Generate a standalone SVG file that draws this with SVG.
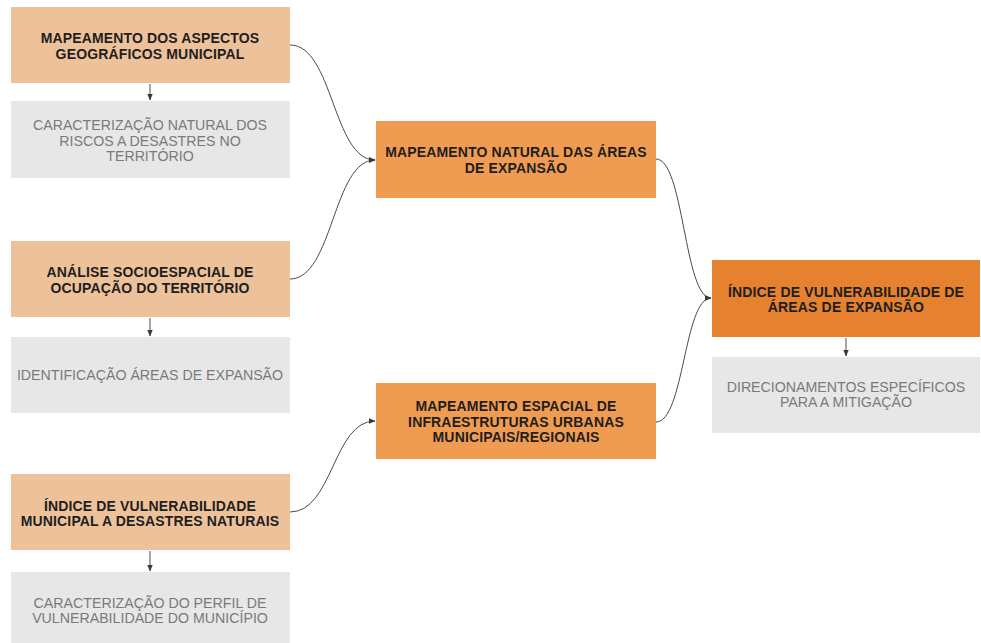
<svg xmlns="http://www.w3.org/2000/svg" width="981" height="643" viewBox="0 0 981 643">
<style>
.lo{fill:#EDC29A}
.mo{fill:#EF9C52}
.do{fill:#E5812F}
.gr{fill:#E7E7E7}
.bt{font-family:"Liberation Sans",Arial,sans-serif;font-weight:bold;font-size:14px;letter-spacing:0.15px;fill:#1E1E1E;text-anchor:middle}
.gt{font-family:"Liberation Sans",Arial,sans-serif;font-size:14.2px;fill:#7A7A7A;text-anchor:middle}
.c{fill:none;stroke:#4A4A4A;stroke-width:1}
</style>
<defs>
<marker id="ah" markerWidth="7" markerHeight="7" refX="6" refY="3.5" orient="auto" markerUnits="userSpaceOnUse">
<path d="M0,0.8 L6.5,3.5 L0,6.2 Z" fill="#3A3A3A"/>
</marker>
</defs>
<rect width="981" height="643" fill="#FFFFFF"/>
<g id="n1"><rect class="lo" x="11" y="7" width="279" height="76"/><text class="bt" x="150" y="43">MAPEAMENTO DOS ASPECTOS</text><text class="bt" x="150" y="59">GEOGRÁFICOS  MUNICIPAL</text></g>
<g id="g1"><rect class="gr" x="11" y="101" width="279" height="77"/><text class="gt" x="150" y="130">CARACTERIZAÇÃO NATURAL DOS</text><text class="gt" x="150" y="145.5">RISCOS A DESASTRES NO</text><text class="gt" x="150" y="161">TERRITÓRIO</text></g>
<g id="n2"><rect class="lo" x="11" y="241" width="279" height="76"/><text class="bt" x="150" y="277">ANÁLISE SOCIOESPACIAL DE</text><text class="bt" x="150" y="292.5">OCUPAÇÃO DO TERRITÓRIO</text></g>
<g id="g2"><rect class="gr" x="11" y="337" width="279" height="76"/><text class="gt" x="150" y="380">IDENTIFICAÇÃO ÁREAS DE EXPANSÃO</text></g>
<g id="n3"><rect class="lo" x="11" y="474" width="279" height="76"/><text class="bt" x="150" y="511">ÍNDICE DE VULNERABILIDADE</text><text class="bt" x="150" y="526">MUNICIPAL A DESASTRES NATURAIS</text></g>
<g id="g3"><rect class="gr" x="11" y="572" width="279" height="76"/><text class="gt" x="150" y="608">CARACTERIZAÇÃO DO PERFIL DE</text><text class="gt" x="150" y="623">VULNERABILIDADE DO MUNICÍPIO</text></g>
<g id="nA"><rect class="mo" x="376" y="121" width="280" height="77"/><text class="bt" x="516" y="157">MAPEAMENTO NATURAL DAS ÁREAS</text><text class="bt" x="516" y="173">DE EXPANSÃO</text></g>
<g id="nB"><rect class="mo" x="376" y="383" width="280" height="76"/><text class="bt" x="516" y="411">MAPEAMENTO ESPACIAL DE</text><text class="bt" x="516" y="427">INFRAESTRUTURAS URBANAS</text><text class="bt" x="516" y="442">MUNICIPAIS/REGIONAIS</text></g>
<g id="nC"><rect class="do" x="712" y="260" width="268" height="77"/><text class="bt" x="846" y="297">ÍNDICE DE VULNERABILIDADE DE</text><text class="bt" x="846" y="312">ÁREAS DE EXPANSÃO</text></g>
<g id="gC"><rect class="gr" x="712" y="357" width="268" height="76"/><text class="gt" x="846" y="392">DIRECIONAMENTOS ESPECÍFICOS</text><text class="gt" x="846" y="407">PARA A MITIGAÇÃO</text></g>
<g id="connectors">
<path class="c" d="M150,84 V100" marker-end="url(#ah)"/>
<path class="c" d="M150,318 V336" marker-end="url(#ah)"/>
<path class="c" d="M150,551 V571" marker-end="url(#ah)"/>
<path class="c" d="M846,338 V356" marker-end="url(#ah)"/>
<path class="c" d="M290,45 C333,45 333,160 375,160" marker-end="url(#ah)"/>
<path class="c" d="M290,279 C333,279 333,160 375,160" marker-end="url(#ah)"/>
<path class="c" d="M290,512 C333,512 333,421 375,421" marker-end="url(#ah)"/>
<path class="c" d="M656,159 C684,159 684,298 711,298" marker-end="url(#ah)"/>
<path class="c" d="M656,422 C684,422 684,298 711,298" marker-end="url(#ah)"/>
</g>
</svg>
